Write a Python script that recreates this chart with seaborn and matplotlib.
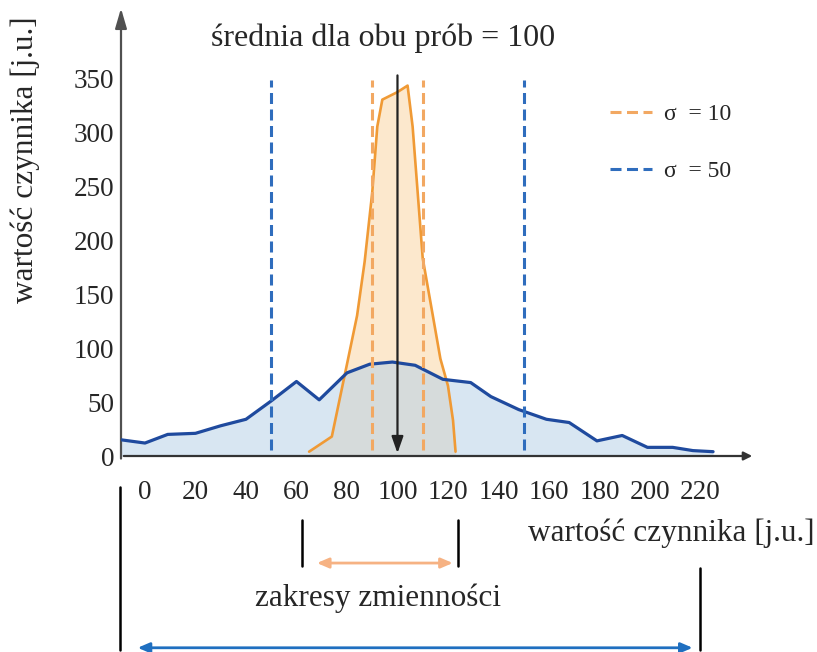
import numpy as np
import pandas as pd
import matplotlib
matplotlib.use("Agg")
import matplotlib.pyplot as plt
import seaborn as sns

# values
blue_x = [-9.5, 0, 9, 20, 30, 40, 50, 60, 69, 80, 89, 98, 107, 118, 129, 137, 148, 159, 168, 179, 189, 199, 209, 217, 225]
blue_y = [15, 12, 20, 21, 28, 34, 51, 69, 52, 77, 85, 87, 84, 71, 68, 55, 43, 34, 31, 14, 19, 8, 8, 5, 4]
orange_x = [65, 74, 80, 84, 87, 90, 92, 94, 100, 104, 106, 108, 110, 114, 117, 120, 122, 123]
orange_y = [4, 18, 85, 130, 180, 244, 305, 330, 337, 343, 305, 244, 183, 130, 90, 65, 33, 4]

mean_val = 100
sigma_small = 10
sigma_big = 50
orange_range = [62, 124]
blue_range = [-10, 220]
x_ticks = list(range(0, 221, 20))
y_ticks = list(range(0, 351, 50))

blue_df = pd.DataFrame({"x": blue_x, "y": blue_y})
orange_df = pd.DataFrame({"x": orange_x, "y": orange_y})

sns.set_style("white")
plt.rcParams['font.family'] = ['Liberation Serif', 'DejaVu Serif']

c_blue = '#1f4a9e'
c_blue_dash = '#2f6dbd'
c_orange = '#f09a35'
c_orange_dash = '#f2a862'
c_axis = '#505050'

fig = plt.figure(figsize=(8.17, 6.52), dpi=100)
ax = fig.add_axes([121 / 817, 196 / 652, 634 / 817, 446 / 652])

# fills
ax.fill_between(orange_df['x'], 0, orange_df['y'], color='#fce8cd', lw=0, zorder=1)
ax.fill_between(blue_df['x'], 0, blue_df['y'], color='#b8d2e8', alpha=0.55, lw=0, zorder=2)

sns.lineplot(data=blue_df, x='x', y='y', ax=ax, color=c_blue, lw=2.3, sort=False, zorder=4)
sns.lineplot(data=orange_df, x='x', y='y', ax=ax, color=c_orange, lw=1.9, sort=False, zorder=3)

# sigma lines
dash = (0, (3.6, 1.8))
ax.vlines([mean_val - sigma_small, mean_val + sigma_small], 6, 348, color=c_orange_dash, lw=2.2,
          linestyles=[dash], zorder=5, label='σ  = 10')
ax.vlines([mean_val - sigma_big, mean_val + sigma_big], 6, 348, color=c_blue_dash, lw=2.2,
          linestyles=[dash], zorder=5, label='σ  = 50')

# mean arrow
ax.annotate('', xy=(mean_val, 0), xytext=(mean_val, 355),
            arrowprops=dict(arrowstyle='-|>,head_length=1.0,head_width=0.35', color='#222222', lw=1.6),
            zorder=6)

ax.set_xlim(-9.5, 241.6)
ax.set_ylim(0, 413)
ax.set_xticks(x_ticks)
ax.set_yticks(y_ticks)
ax.tick_params(axis='x', direction='out', length=7, width=1.4, color=c_axis, pad=10, labelsize=19.5)
ax.tick_params(axis='y', length=0, pad=5, labelsize=19.5)
for s in ax.spines.values():
    s.set_visible(False)

# axes with arrows
ax.annotate('', xy=(0, 1.01), xytext=(0, -0.012), xycoords='axes fraction',
            arrowprops=dict(arrowstyle='-|>,head_length=1.2,head_width=0.35', color=c_axis, lw=1.6))
ax.annotate('', xy=(1.0, 0), xytext=(0, 0), xycoords='axes fraction',
            arrowprops=dict(arrowstyle='-|>,head_length=0.5,head_width=0.25', color='#333333', lw=1.6))

ax.set_xlabel('')
ax.set_ylabel('wartość czynnika [j.u.]', fontsize=22.5, va='center')
ax.yaxis.set_label_coords(-0.151, 0.664)

ax.text(94.3, 0.937, 'średnia dla obu prób = 100', transform=ax.get_xaxis_transform(),
        ha='center', va='center', fontsize=23)

ax.legend(loc='upper left', bbox_to_anchor=(0.771, 0.79), frameon=False, fontsize=17,
          handlelength=1.8, labelspacing=1.5, borderpad=0, borderaxespad=0, handletextpad=0.5)

# ranges below the axis
tr = ax.get_xaxis_transform()
ax.plot([blue_range[0], blue_range[0]], [-0.0695, -0.435], color='black', lw=1.8, transform=tr, clip_on=False)
ax.plot([blue_range[1], blue_range[1]], [-0.251, -0.435], color='black', lw=1.8, transform=tr, clip_on=False)
for v in orange_range:
    ax.plot([v, v], [-0.1435, -0.2466], color='black', lw=1.8, transform=tr, clip_on=False)

ax.annotate('', xy=(orange_range[0] + 5, -0.24), xytext=(orange_range[1] - 1, -0.24),
            xycoords=tr, textcoords=tr,
            arrowprops=dict(arrowstyle='<|-|>,head_length=0.7,head_width=0.3', color='#f6b283', lw=2))
ax.annotate('', xy=(blue_range[0] + 6, -0.43), xytext=(blue_range[1] - 2, -0.43),
            xycoords=tr, textcoords=tr,
            arrowprops=dict(arrowstyle='<|-|>,head_length=0.7,head_width=0.3', color='#1f6fc0', lw=2))

ax.text(92.3, -0.318, 'zakresy zmienności', transform=tr, ha='center', va='center', fontsize=22.5)
ax.text(208.3, -0.173, 'wartość czynnika [j.u.]', transform=tr, ha='center', va='center', fontsize=22.5)

fig.savefig('out.png', dpi=100)
